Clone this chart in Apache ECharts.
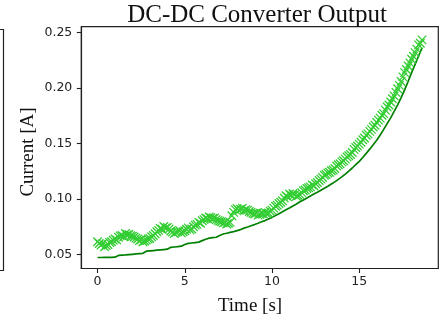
<!DOCTYPE html>
<html>
<head>
<meta charset="utf-8">
<script src="https://cdn.jsdelivr.net/npm/echarts@6/dist/echarts.min.js"></script>
<style>html,body{margin:0;padding:0;background:#fff;}#c{width:446px;height:324px;}</style>
</head>
<body>
<div id="c"></div>
<script>
// Time [s] for the model line
var timeModel = [
0.0,0.2,0.4,0.6,0.8,1.0,1.2,1.4,1.6,1.8,
2.0,2.2,2.4,2.6,2.8,3.0,3.2,3.4,3.6,3.8,
4.0,4.2,4.4,4.6,4.8,5.0,5.2,5.4,5.6,5.8,
6.0,6.2,6.4,6.6,6.8,7.0,7.2,7.4,7.6,7.8,
8.0,8.2,8.4,8.6,8.8,9.0,9.2,9.4,9.6,9.8,
10.0,10.2,10.4,10.6,10.8,11.0,11.2,11.4,11.6,11.8,
12.0,12.2,12.4,12.6,12.8,13.0,13.2,13.4,13.6,13.8,
14.0,14.2,14.4,14.6,14.8,15.0,15.2,15.4,15.6,15.8,
16.0,16.2,16.4,16.6,16.8,17.0,17.2,17.4,17.6,17.8,
18.0,18.2,18.4,18.6
];
// model current [A] (solid line)
var model = [
0.0473,0.0473,0.0474,0.0474,0.0475,0.0476,0.0492,0.0494,0.0496,0.0499,
0.0502,0.0505,0.0508,0.0511,0.0530,0.0533,0.0536,0.0539,0.0542,0.0545,
0.0548,0.0565,0.0568,0.0571,0.0575,0.0590,0.0600,0.0604,0.0608,0.0612,
0.0625,0.0638,0.0648,0.0652,0.0656,0.0672,0.0685,0.0692,0.0700,0.0706,
0.0715,0.0725,0.0738,0.0748,0.0760,0.0770,0.0782,0.0795,0.0806,0.0820,
0.0835,0.0852,0.0868,0.0885,0.0903,0.0920,0.0938,0.0955,0.0975,0.0992,
0.1010,0.1028,0.1045,0.1062,0.1080,0.1098,0.1115,0.1135,0.1155,0.1178,
0.1200,0.1225,0.1252,0.1280,0.1310,0.1340,0.1375,0.1412,0.1450,0.1490,
0.1530,0.1578,0.1628,0.1680,0.1732,0.1790,0.1850,0.1915,0.1985,0.2060,
0.2140,0.2215,0.2290,0.2365
];
// Time [s] for the measured samples
var timeMeas = [
0.0,0.1,0.2,0.3,0.4,0.5,0.6,0.7,0.8,0.9,
1.0,1.1,1.2,1.3,1.4,1.5,1.6,1.7,1.8,1.9,
2.0,2.1,2.2,2.3,2.4,2.5,2.6,2.7,2.8,2.9,
3.0,3.1,3.2,3.3,3.4,3.5,3.6,3.7,3.8,3.9,
4.0,4.1,4.2,4.3,4.4,4.5,4.6,4.7,4.8,4.9,
5.0,5.1,5.2,5.3,5.4,5.5,5.6,5.7,5.8,5.9,
6.0,6.1,6.2,6.3,6.4,6.5,6.6,6.7,6.8,6.9,
7.0,7.1,7.2,7.3,7.4,7.5,7.6,7.7,7.8,7.9,
8.0,8.1,8.2,8.3,8.4,8.5,8.6,8.7,8.8,8.9,
9.0,9.1,9.2,9.3,9.4,9.5,9.6,9.7,9.8,9.9,
10.0,10.1,10.2,10.3,10.4,10.5,10.6,10.7,10.8,10.9,
11.0,11.1,11.2,11.3,11.4,11.5,11.6,11.7,11.8,11.9,
12.0,12.1,12.2,12.3,12.4,12.5,12.6,12.7,12.8,12.9,
13.0,13.1,13.2,13.3,13.4,13.5,13.6,13.7,13.8,13.9,
14.0,14.1,14.2,14.3,14.4,14.5,14.6,14.7,14.8,14.9,
15.0,15.1,15.2,15.3,15.4,15.5,15.6,15.7,15.8,15.9,
16.0,16.1,16.2,16.3,16.4,16.5,16.6,16.7,16.8,16.9,
17.0,17.1,17.2,17.3,17.4,17.5,17.6,17.7,17.8,17.9,
18.0,18.1,18.2,18.3,18.4,18.5,18.6
];
// measured current [A] (x markers)
var measured = [
0.0615,0.0600,0.0585,0.0598,0.0570,0.0582,0.0590,0.0608,0.0615,0.0628,
0.0640,0.0632,0.0655,0.0668,0.0672,0.0660,0.0690,0.0678,0.0680,0.0670,
0.0665,0.0658,0.0648,0.0640,0.0625,0.0632,0.0615,0.0622,0.0630,0.0640,
0.0645,0.0660,0.0672,0.0688,0.0705,0.0718,0.0735,0.0728,0.0752,0.0740,
0.0745,0.0730,0.0712,0.0702,0.0690,0.0700,0.0705,0.0718,0.0695,0.0705,
0.0715,0.0728,0.0740,0.0722,0.0730,0.0750,0.0765,0.0772,0.0790,0.0782,
0.0805,0.0815,0.0830,0.0822,0.0838,0.0832,0.0825,0.0830,0.0815,0.0808,
0.0800,0.0795,0.0785,0.0790,0.0775,0.0782,0.0790,0.0850,0.0880,0.0905,
0.0915,0.0900,0.0908,0.0918,0.0895,0.0905,0.0900,0.0888,0.0880,0.0872,
0.0865,0.0875,0.0855,0.0862,0.0870,0.0868,0.0880,0.0870,0.0875,0.0890,
0.0900,0.0918,0.0935,0.0945,0.0960,0.0972,0.0985,0.1010,0.1030,0.1020,
0.1045,0.1035,0.1050,0.1040,0.1025,0.1032,0.1040,0.1058,0.1075,0.1082,
0.1095,0.1102,0.1110,0.1128,0.1120,0.1138,0.1150,0.1168,0.1180,0.1195,
0.1215,0.1222,0.1235,0.1242,0.1255,0.1262,0.1275,0.1298,0.1310,0.1318,
0.1335,0.1345,0.1360,0.1380,0.1390,0.1402,0.1420,0.1448,0.1465,0.1478,
0.1495,0.1512,0.1535,0.1550,0.1575,0.1588,0.1610,0.1628,0.1650,0.1665,
0.1690,0.1712,0.1730,0.1755,0.1770,0.1802,0.1830,0.1848,0.1875,0.1905,
0.1930,0.1962,0.1995,0.2025,0.2060,0.2102,0.2140,0.2168,0.2200,0.2228,
0.2260,0.2288,0.2320,0.2352,0.2390,0.2405,0.2435
];
var xTicks = [0, 5, 10, 15];
var yTicks = [0.05, 0.10, 0.15, 0.20, 0.25];
var yTickLabels = ['0.05', '0.10', '0.15', '0.20', '0.25'];
var titleText = 'DC-DC Converter Output';
var xLabel = 'Time [s]';
var yLabel = 'Current [A]';

var chart = echarts.init(document.getElementById('c'), null, {renderer: 'canvas'});
var serif = '"Liberation Serif", "DejaVu Serif", serif';
var sans = '"DejaVu Sans", sans-serif';
var frame = '#222';
chart.setOption({
  animation: false,
  backgroundColor: '#fff',
  title: {
    text: titleText,
    left: 252, top: -2, textAlign: 'center',
    textStyle: {fontFamily: serif, fontSize: 25, fontWeight: 'normal', color: '#111'}
  },
  grid: {left: 81.3, right: 7.7, top: 26.7, bottom: 55.5, show: true,
         borderColor: frame, borderWidth: 1.2, backgroundColor: 'transparent'},
  xAxis: {
    type: 'value', min: -0.93, max: 19.53,
    axisLine: {show: true, onZero: false, lineStyle: {color: frame, width: 1.2}},
    axisTick: {show: true, customValues: xTicks, length: 4.5, lineStyle: {color: frame, width: 1.1}},
    axisLabel: {customValues: xTicks, margin: 7, fontFamily: sans, fontSize: 12.5, color: '#222'},
    splitLine: {show: false}
  },
  yAxis: {
    type: 'value', min: 0.0374, max: 0.2554,
    axisLine: {show: true, onZero: false, lineStyle: {color: frame, width: 1.2}},
    axisTick: {show: true, customValues: yTicks, length: 4.5, lineStyle: {color: frame, width: 1.1}},
    axisLabel: {customValues: yTicks, margin: 9, fontFamily: sans, fontSize: 12.5, color: '#222',
      formatter: function (v) { var i = yTicks.findIndex(function (t) { return Math.abs(t - v) < 1e-9; }); return i >= 0 ? yTickLabels[i] : ''; }},
    splitLine: {show: false}
  },
  graphic: [
    {type: 'text', x: 28.5, y: 152, rotation: Math.PI / 2,
     style: {text: yLabel, font: '19px ' + serif, fill: '#111', align: 'center', verticalAlign: 'middle'}},
    {type: 'text', x: 250, y: 306,
     style: {text: xLabel, font: '19px ' + serif, fill: '#111', align: 'center', verticalAlign: 'middle'}},
    {type: 'rect', shape: {x: -10, y: 29.5, width: 13.5, height: 241},
     style: {fill: 'none', stroke: frame, lineWidth: 1.2}}
  ],
  series: [
    {
      type: 'line', name: 'model', showSymbol: false, symbol: 'none',
      data: timeModel.map(function (t, i) { return [t, model[i]]; }),
      lineStyle: {color: '#008000', width: 1.7}, z: 2
    },
    {
      type: 'scatter', name: 'measured',
      symbol: 'path://M0,0L10,10M10,0L0,10', symbolSize: 8.5,
      data: timeMeas.map(function (t, i) { return [t, measured[i]]; }),
      itemStyle: {color: 'rgba(0,0,0,0)', borderColor: '#32CD32', borderWidth: 1.3, opacity: 1}, z: 3
    }
  ]
});
</script>
</body>
</html>
